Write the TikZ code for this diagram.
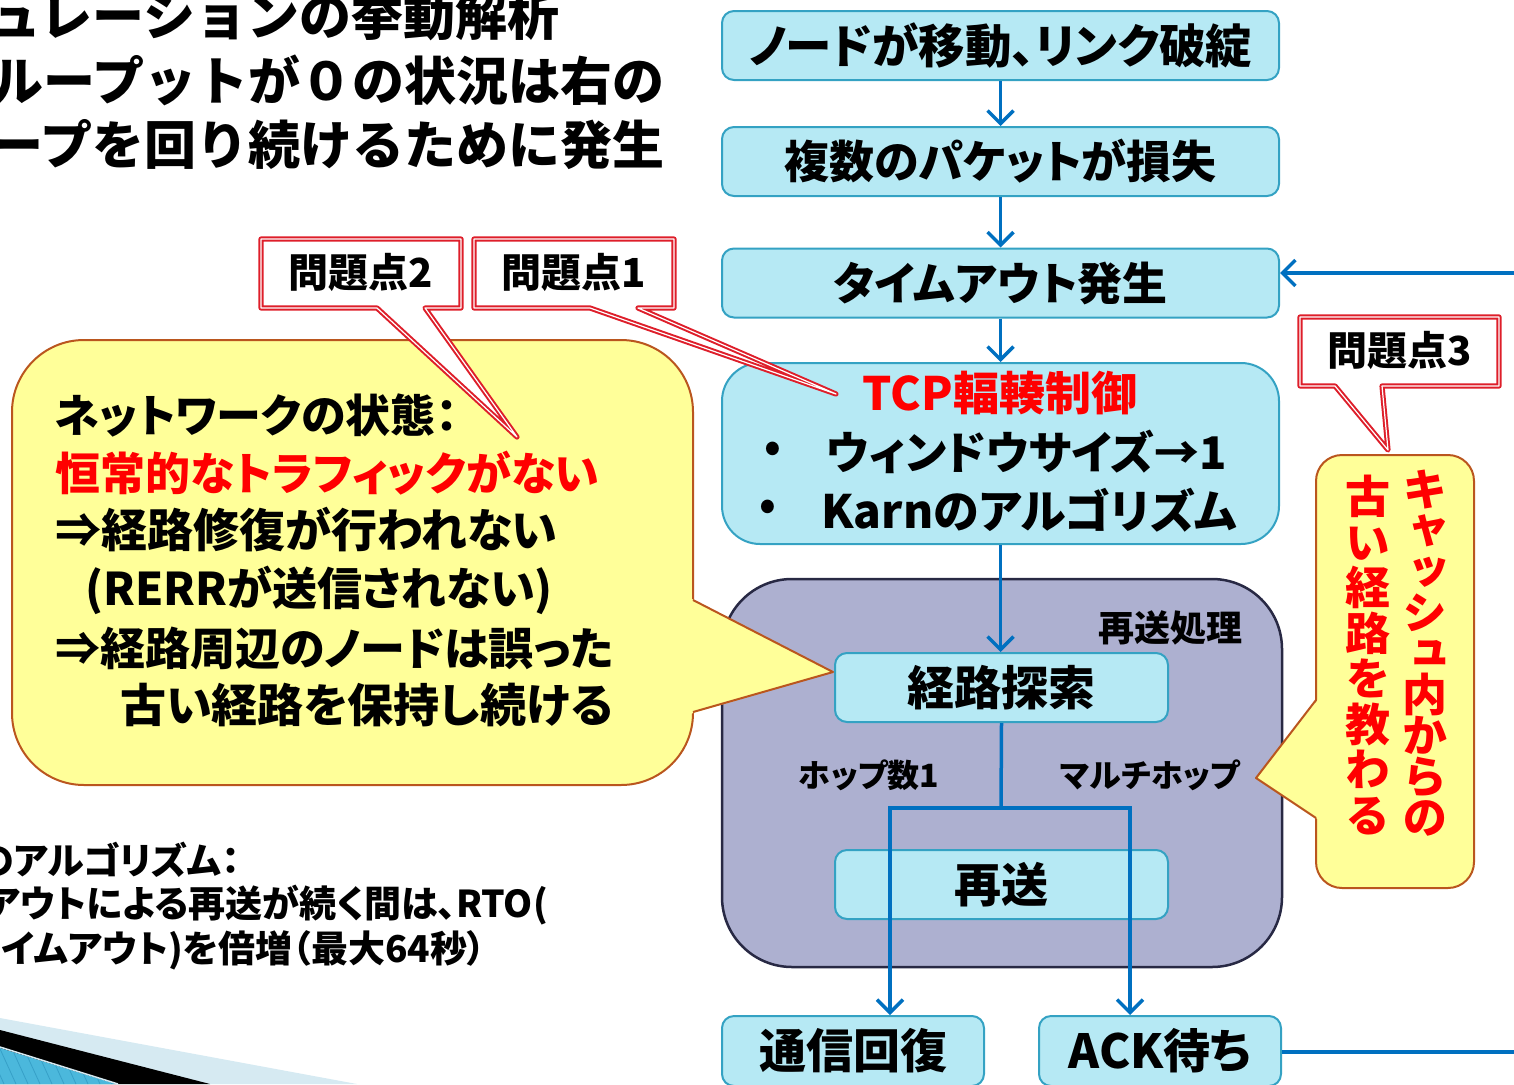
\documentclass[tikz,border=0pt]{standalone}
\usepackage{fontspec}
\setmainfont{Noto Sans CJK JP}[RawFeature=+palt]
\newfontfamily\jpm{Noto Sans CJK JP}
\newfontfamily\vjp{Noto Sans CJK JP}[RawFeature=+vert]
\usetikzlibrary{arrows.meta}
\newcommand\jfs[1]{\fontsize{#1}{#1}\selectfont\bfseries}
\definecolor{boxfill}{RGB}{182,233,244}
\definecolor{boxline}{RGB}{52,162,195}
\definecolor{contfill}{RGB}{173,176,208}
\definecolor{contline}{RGB}{40,41,68}
\definecolor{yfill}{RGB}{255,255,153}
\definecolor{yline}{RGB}{186,86,30}
\definecolor{arrblue}{RGB}{0,112,192}
\definecolor{calred}{RGB}{222,30,42}
\definecolor{bandlight}{RGB}{214,234,242}
\definecolor{bandblue}{RGB}{75,184,220}
\definecolor{bandstripe}{RGB}{55,160,200}
\begin{document}
\begin{tikzpicture}[x=1pt,y=-1pt,
  flow/.style={draw=boxline, fill=boxfill, line width=2pt, rounded corners=12pt,
    minimum width=557pt, minimum height=69pt, inner sep=0pt, font=\jfs{45}},
  cont/.style={draw=contline, fill=contfill, line width=2.5pt, rounded corners=70pt},
  ycall/.style={draw=yline, fill=yfill, line width=2pt},
  ybord/.style={draw=yline, line width=2pt, line join=round},
  pcall/.style={draw=calred, line width=2pt, double=white, double distance=1.2pt, fill=white, line join=round},
  arr/.style={draw=arrblue, line width=3.5pt, -{Straight Barb[length=13pt,width=26pt]}},
  conn/.style={draw=arrblue, line width=3.5pt},
  txt/.style={inner sep=0pt},
]
\useasboundingbox (0,0) rectangle (1514,1084);
\clip (0,0) rectangle (1514,1084);

% bottom-left decoration
\fill[bandlight] (0,1018) -- (357,1084) -- (0,1084) -- cycle;
\fill[black] (0,1030) -- (210,1084) -- (0,1084) -- cycle;
\fill[bandblue] (0,1048) -- (116,1084) -- (0,1084) -- cycle;
\begin{scope}
  \clip (0,1048) -- (116,1084) -- (0,1084) -- cycle;
  \foreach \i in {-40,-28,...,120} \draw[bandstripe, line width=0.8pt] (\i,1040) -- (\i+20,1084);
\end{scope}
\draw[bandlight, line width=1.5pt] (0,1047) -- (118,1084);

% title lines (clipped at left, as in the slide crop)
\node[txt, anchor=east, font=\jpm\jfs{52}] (t1) at (560,16) {シミュレーションの挙動解析};
\node[txt, anchor=east, font=\jpm\jfs{52}] (t2) at (665,80) {スループットが０の状況は右の};
\node[txt, anchor=east, font=\jpm\jfs{52}] (t3) at (665,145) {ループを回り続けるために発生};

% bottom notes
\node[txt, anchor=east, font=\jfs{37}] (b1) at (240,860) {Karnのアルゴリズム：};
\node[txt, anchor=east, font=\jfs{37}] (b2) at (548,905) {タイムアウトによる再送が続く間は、RTO(};
\node[txt, anchor=east, font=\jfs{37}] (b3) at (486,950) {再送タイムアウト)を倍増（最大64秒）};

% flow
\node[flow, font=\jfs{46.5}] (n1) at (1000.5,45.5) {ノードが移動、リンク破綻};
\node[flow] (n2) at (1000.5,161.5) {複数のパケットが損失};
\node[flow] (n3) at (1000.5,283) {タイムアウト発生};
\node[flow, minimum height=181pt, rounded corners=38pt] (tcp) at (1000.5,453.5) {};
\node[txt, font=\jfs{46}, text=red] (tcpt) at (1000,393) {TCP輻輳制御};
\node[txt, font=\jfs{42}] (bul1) at (773,452) {•};
\node[txt, font=\jfs{42}] (bul2) at (768,510) {•};
\node[txt, anchor=west, font=\jfs{45}] (tcp1) at (826,452) {ウィンドウサイズ→1};
\node[txt, anchor=west, font=\jfs{46}] (tcp2) at (821,510) {Karnのアルゴリズム};

\node[cont, minimum width=560pt, minimum height=388pt] (cont) at (1002,773) {};
\node[txt, anchor=east, font=\jfs{36}] (contl) at (1243,628) {再送処理};
\node[flow, minimum width=333pt, font=\jfs{47}] (kr) at (1001.5,687.5) {経路探索};
\node[flow, minimum width=333pt, font=\jfs{47}] (rs) at (1001.5,884.5) {再送};
\node[txt, font=\jfs{32}] (h1) at (869,775) {ホップ数1};
\node[txt, font=\jfs{32}] (hm) at (1150,775) {マルチホップ};
\node[flow, minimum width=262pt, minimum height=70pt, font=\jfs{47}] (tk) at (853,1051) {通信回復};
\node[flow, minimum width=242pt, minimum height=70pt, font=\jfs{47}] (ack) at (1160,1051) {ACK待ち};

% connectors
\draw[arr] (n1) -- (n2);
\draw[arr] (n2) -- (n3);
\draw[arr] (n3) -- (tcp);
\draw[arr] (tcp.south) -- (tcp.south |- kr.north);
\coordinate (split) at (1001,808);
\coordinate (sl) at (890,808);
\coordinate (sr) at (1130,808);
\draw[conn] (kr.south) -- (split);
\draw[arr] (split) -- (sl) -- (sl |- tk.north);
\draw[arr] (split) -- (sr) -- (sr |- ack.north);
\coordinate (rin) at (1514,273);
\coordinate (rout) at (1514,1052);
\draw[arr] (rin) -- (rin -| n3.east);
\draw[conn] (ack.east |- rout) -- (rout);

% left yellow callout
\node[ycall, rounded corners=72pt, minimum width=681pt, minimum height=445pt] (yc) at (352.5,562.5) {};
\coordinate (ytip) at (833,672);
\fill[yfill] (690,598) -- (ytip) -- (690,714) -- cycle;
\draw[ybord] (693,600) -- (ytip) -- (693,712);
\node[txt, anchor=west, font=\jfs{45}] (y1) at (55,415) {ネットワークの状態：};
\node[txt, anchor=west, font=\jfs{45}, text=red] (y2) at (55,473) {恒常的なトラフィックがない};
\node[txt, anchor=west, font=\jfs{46}] (y3) at (55,530) {⇒経路修復が行われない};
\node[txt, anchor=west, font=\jfs{45}] (y4) at (85,590) {(RERRが送信されない)};
\node[txt, anchor=west, font=\jfs{45}] (y5) at (55,648) {⇒経路周辺のノードは誤った};
\node[txt, anchor=west, font=\jfs{46}] (y6) at (120,705) {古い経路を保持し続ける};

% right yellow callout
\node[ycall, rounded corners=26pt, minimum width=158pt, minimum height=433pt] (yc2) at (1395,671.5) {};
\coordinate (ytip2) at (1256,778);
\fill[yfill] (1319,698) -- (ytip2) -- (1319,820) -- cycle;
\draw[ybord] (1316,700) -- (ytip2) -- (1316,818);
\node[txt, anchor=north, align=center, font={\vjp\fontsize{45}{41}\selectfont\bfseries}, text=red] (v1) at (1425,470) {キ\\ャ\\ッ\\シ\\ュ\\内\\か\\ら\\の};
\node[txt, anchor=north, align=center, font={\vjp\fontsize{45}{45.5}\selectfont\bfseries}, text=red] (v2) at (1368,475) {古\\い\\経\\路\\を\\教\\わ\\る};

% problem callouts
\draw[pcall] (261,239) -- (461,239) -- (461,308) -- (425,308) -- (517,437) -- (377,308) -- (261,308) -- cycle;
\node[txt, font=\jfs{40}] (p2) at (361,272) {問題点2};
\draw[pcall] (474,239) -- (674,239) -- (674,308) -- (638,308) -- (836,394) -- (590,308) -- (474,308) -- cycle;
\node[txt, font=\jfs{40}] (p1) at (574,272) {問題点1};
\draw[pcall] (1300,317) -- (1499,317) -- (1499,386) -- (1382,386) -- (1388,450) -- (1335,386) -- (1300,386) -- cycle;
\node[txt, font=\jfs{40}] (p3) at (1400,350) {問題点3};
\end{tikzpicture}
\end{document}
